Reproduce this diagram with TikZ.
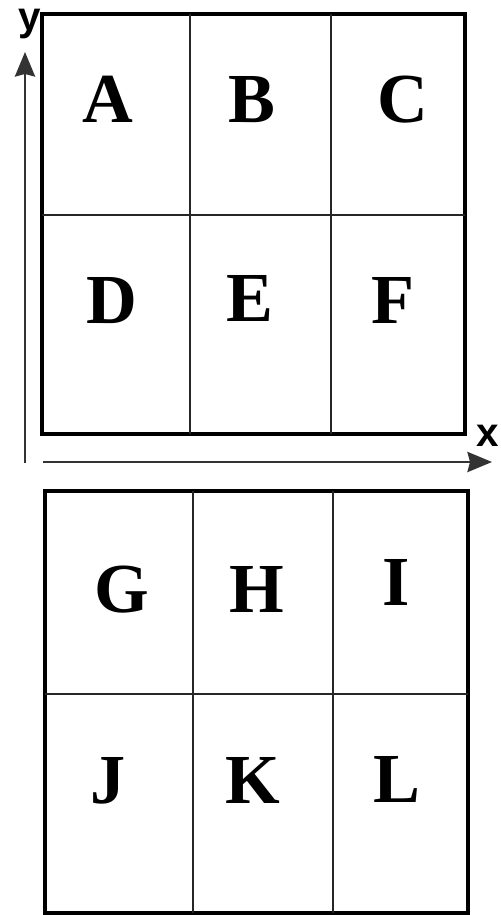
\documentclass[tikz,border=0pt]{standalone}
\usepackage{fontspec}
\setmainfont{Liberation Serif}
\newfontfamily\axisfont{Liberation Sans}
\usetikzlibrary{arrows.meta}

\begin{document}
\begin{tikzpicture}[x=0.02cm,y=-0.02cm,>=Stealth,
 frame/.style={draw=black,line width=2.7pt},
 divider/.style={draw=black!85,line width=1.2pt},
 cell/.style={anchor=base,inner sep=0pt,font=\fontsize{40}{40}\selectfont\bfseries},
 axis/.style={-{Stealth[length=14pt,width=11.5pt,inset=1.5pt]},line width=1.3pt,black!80},
 axlabel/.style={anchor=base,inner sep=0pt,font=\axisfont\fontsize{23}{23}\selectfont\bfseries}]
\useasboundingbox (0,0) rectangle (500,915);

% upper panel
\draw[frame] (42,14) rectangle (465,434);
\draw[divider] (190,14)--(190,434); \draw[divider] (331,14)--(331,434);
\draw[divider] (42,215)--(465,215);
\node[cell] (A) at (108,123) {A};
\node[cell] (B) at (252,123) {B};
\node[cell] (C) at (403,123) {C};
\node[cell] (D) at (112,323) {D};
\node[cell] (E) at (250,321) {E};
\node[cell] (F) at (393,323) {F};

% axes
\coordinate (yfoot) at (25,463);
\coordinate (ytip) at (25,52);
\coordinate (xfoot) at (43,462);
\coordinate (xtip) at (492,462);
\draw[axis] (yfoot)--(ytip);
\draw[axis] (xfoot)--(xtip);
\node[axlabel] (ylab) at (30,31) {y};
\node[axlabel] (xlab) at (488,446) {x};

% lower panel
\draw[frame] (45,491) rectangle (468,913);
\draw[divider] (193,491)--(193,913); \draw[divider] (333,491)--(333,913);
\draw[divider] (45,694)--(468,694);
\node[cell] (G) at (122,612) {G};
\node[cell] (H) at (257,612) {H};
\node[cell] (I) at (396,605) {I};
\node[cell] (J) at (108,803) {J};
\node[cell] (K) at (253,803) {K};
\node[cell] (L) at (397,802) {L};
\end{tikzpicture}
\end{document}
